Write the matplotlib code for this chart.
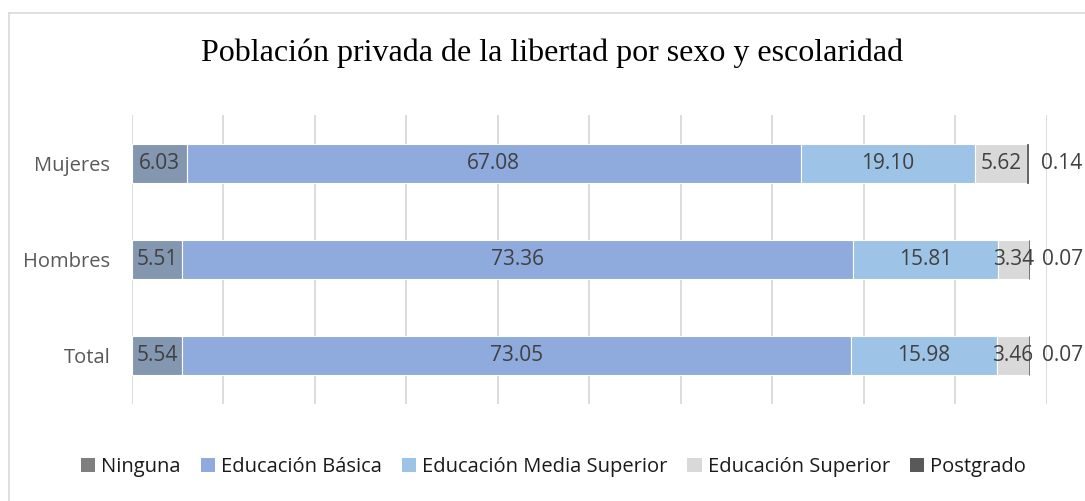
import numpy as np
import matplotlib.pyplot as plt
from matplotlib.patches import Patch
from matplotlib.lines import Line2D

# datos
grupos = ['Total', 'Hombres', 'Mujeres']
niveles = ['Ninguna', 'Educación Básica', 'Educación Media Superior',
           'Educación Superior', 'Postgrado']
ninguna = [5.54, 5.51, 6.03]
basica = [73.05, 73.36, 67.08]
media_sup = [15.98, 15.81, 19.10]
superior = [3.46, 3.34, 5.62]
postgrado = [0.07, 0.07, 0.14]

series = [ninguna, basica, media_sup, superior, postgrado]
colores_barra = ['#8497b0', '#8faadc', '#9dc3e6', '#d9d9d9', '#595959']
colores_leyenda = ['#7f7f7f', '#8faadc', '#9dc3e6', '#d9d9d9', '#595959']

plt.rcParams['font.family'] = ['Open Sans', 'DejaVu Sans']

fig = plt.figure(figsize=(10.85, 5.01), dpi=100)
ax = fig.add_axes([0.1214, 0.1936, 0.8433, 0.5768])

y = np.arange(len(grupos))
izq = np.zeros(len(grupos))
for i, (vals, col) in enumerate(zip(series, colores_barra)):
    vals = np.array(vals)
    ultimo = i == len(series) - 1
    ax.barh(y, vals, left=izq, height=0.405, color=col,
            edgecolor=col if ultimo else 'white',
            linewidth=0.6 if ultimo else 0.8, zorder=3)
    for j, v in enumerate(vals):
        if ultimo:
            ax.text(izq[j] + v + 1.4, y[j], f'{v:.2f}', ha='left', va='center',
                    fontsize=15, color='#404040', zorder=4)
        else:
            ax.text(izq[j] + v / 2, y[j], f'{v:.2f}', ha='center', va='center',
                    fontsize=15, color='#404040', zorder=4)
    izq += vals

ax.set_xlim(0, 100)
ax.set_ylim(-0.5, 2.5)
ax.set_xticks(np.arange(0, 101, 10))
ax.xaxis.grid(True, color='#d9d9d9', linewidth=1.3, zorder=0)
ax.tick_params(axis='x', length=0, labelbottom=False)
ax.tick_params(axis='y', length=0, labelsize=14.5, labelcolor='#595959', pad=15.5)
ax.set_yticks(y)
ax.set_yticklabels(grupos)
for s in ax.spines.values():
    s.set_visible(False)

fig.text(0.509, 0.894, 'Población privada de la libertad por sexo y escolaridad',
         ha='center', va='center', fontsize=23, family='Liberation Serif',
         color='black')

handles = [Patch(facecolor=c, edgecolor='none') for c in colores_leyenda]
fig.legend(handles, niveles, loc='center', bbox_to_anchor=(0.51, 0.068), ncol=5,
           frameon=False, fontsize=14.5, handlelength=0.7, handleheight=0.7,
           handletextpad=0.3, columnspacing=1.0, labelcolor='#1a1a1a')

# marco del gráfico
fig.add_artist(Line2D([9 / 1085, 1.0], [1 - 13 / 501, 1 - 13 / 501],
                      color='#d9d9d9', linewidth=1.2, transform=fig.transFigure))
fig.add_artist(Line2D([9 / 1085, 9 / 1085], [0, 1 - 13 / 501],
                      color='#d9d9d9', linewidth=1.2, transform=fig.transFigure))

fig.savefig('out.png', dpi=100)
